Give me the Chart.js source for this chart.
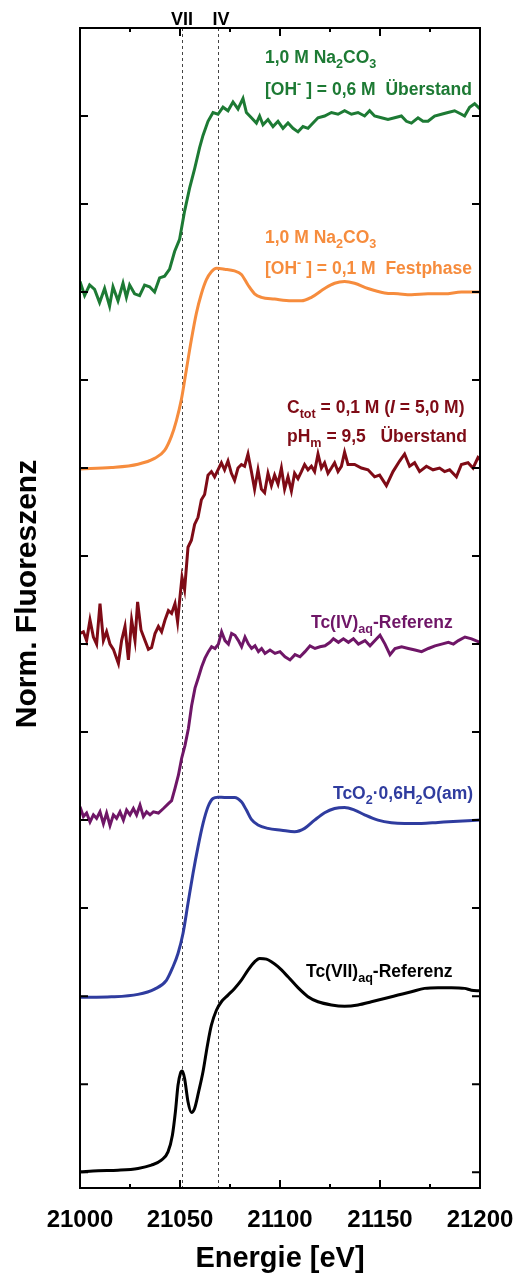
<!DOCTYPE html>
<html>
<head>
<meta charset="utf-8">
<script src="https://cdn.jsdelivr.net/npm/chart.js@4.4.0/dist/chart.umd.min.js"></script>
<style>
  body { margin: 0; background: #fff; }
</style>
</head>
<body>
<canvas id="myChart" width="514" height="1278"></canvas>
<script>
// normalised XANES spectra, [energy eV, mu], each stacked by its own offset
var naCarb06 = [[21000,0.06],[21002.3,-0.02],[21004.8,0.04],[21007.3,0.015],[21009.8,-0.06],[21012.3,0.02],[21014.8,-0.08],[21016.5,0.03],[21019,-0.05],[21021.5,0.05],[21023.2,-0.03],[21024.8,0.04],[21027.3,-0.01],[21029.8,-0.02],[21032.3,0.04],[21034.8,0.03],[21037.3,0.0],[21039.8,0.08],[21042.3,0.09],[21044.8,0.13],[21047.3,0.23],[21049.8,0.30],[21052.3,0.46],[21054.8,0.59],[21057.3,0.70],[21059.8,0.82],[21061.5,0.89],[21064,0.97],[21066.5,1.02],[21069,1.01],[21071.5,1.05],[21074,1.03],[21076.5,1.08],[21079,1.04],[21081.5,1.10],[21083.2,1.02],[21085.7,0.99],[21088.2,0.96],[21089.8,1.0],[21091.5,0.95],[21094,0.98],[21096.5,0.94],[21099,0.97],[21101.5,0.93],[21104,0.96],[21106.5,0.93],[21109,0.91],[21111.5,0.94],[21114,0.93],[21116.5,0.96],[21119,0.99],[21122.3,1.0],[21125.7,1.02],[21129,1.01],[21132.3,1.03],[21135.7,1.01],[21139,1.02],[21142.3,1.0],[21144.8,1.03],[21147.3,1.0],[21150.7,0.99],[21154,0.98],[21157.3,0.99],[21160.7,1.0],[21163.2,0.97],[21165.7,0.96],[21169,0.99],[21171.5,0.97],[21174,0.97],[21177.3,1.0],[21180.7,1.01],[21184,1.02],[21187.3,1.03],[21190.7,1.01],[21192.3,1.0],[21194.8,1.05],[21197.3,1.07],[21200,1.04]];

var naCarb01 = [[21000,-0.005],[21015.7,0.003],[21029,0.022],[21037.3,0.055],[21042.3,0.10],[21045.7,0.18],[21048.2,0.27],[21050.7,0.39],[21053.2,0.56],[21055.7,0.73],[21058.2,0.88],[21060.7,0.99],[21063.2,1.07],[21065.7,1.115],[21068.2,1.135],[21072.3,1.13],[21077.3,1.12],[21080.7,1.10],[21084,1.04],[21087.3,0.99],[21090.7,0.97],[21097.3,0.96],[21105.7,0.95],[21110.7,0.95],[21115.7,0.97],[21122.3,1.02],[21127.3,1.05],[21132.3,1.06],[21137.3,1.05],[21144,1.02],[21152.3,0.995],[21159,0.99],[21165.7,0.985],[21174,0.99],[21182.3,0.99],[21190.7,1.0],[21200,1.0]];

var ctot01 = [[21000,0.06],[21001.7,0.07],[21003.3,0.02],[21005,0.137],[21006.7,0.04],[21008.3,0.0],[21010,0.23],[21011.7,0.02],[21013.3,0.07],[21015,0.0],[21016.7,-0.03],[21019.2,-0.11],[21020.8,0.02],[21022.5,0.10],[21024.2,-0.09],[21025.8,0.137],[21027.5,0.02],[21028.8,0.24],[21030.5,0.08],[21032.5,0.02],[21034.2,-0.03],[21035.8,-0.02],[21037.5,0.06],[21039.2,0.10],[21040.8,0.07],[21042.5,0.137],[21044.2,0.19],[21045.8,0.174],[21047.5,0.23],[21048.8,0.127],[21050,0.27],[21051,0.38],[21052.3,0.31],[21054,0.55],[21055.7,0.59],[21057.3,0.68],[21059,0.72],[21060.7,0.82],[21062.3,0.85],[21064,0.96],[21065.7,0.98],[21067.3,0.95],[21069,0.99],[21070.7,1.03],[21072.3,0.99],[21074,1.04],[21075.7,0.97],[21077.3,0.93],[21079,1.0],[21080.7,1.02],[21082.3,1.01],[21084,1.08],[21085.7,0.98],[21087.3,0.88],[21089,0.99],[21090.7,0.88],[21092.3,0.86],[21094,0.97],[21095.7,0.90],[21097.3,0.96],[21099,0.91],[21100.7,1.0],[21102.3,0.88],[21104,0.95],[21105.7,0.87],[21107.3,0.97],[21109,0.94],[21110.7,0.98],[21112.3,1.02],[21114,0.99],[21115.7,1.01],[21117.3,0.98],[21119,1.08],[21120.7,1.0],[21122.3,1.03],[21124,0.97],[21125.7,1.0],[21127.3,1.03],[21129,0.98],[21130.7,1.01],[21132.3,1.09],[21134,1.02],[21137.3,1.02],[21140.7,1.0],[21144,0.99],[21147.3,0.95],[21149.8,0.96],[21153.2,0.90],[21156.5,0.98],[21159.8,1.04],[21162.3,1.08],[21164.8,1.01],[21167.3,1.03],[21169.8,0.98],[21173.2,1.01],[21176.5,0.99],[21179.8,1.0],[21182.3,0.98],[21184.8,0.99],[21188.2,0.95],[21190.7,1.02],[21194,1.03],[21196.5,1.0],[21199,1.06],[21200,1.05]];

var tcIVaq = [[21000,0.076],[21001.7,0.02],[21003.3,0.04],[21005,-0.01],[21006.7,0.03],[21008.3,0.01],[21010,0.047],[21011.7,-0.02],[21013.3,0.04],[21015,-0.03],[21016.7,0.03],[21018.3,0.01],[21020,0.047],[21021.7,0.0],[21023.3,0.057],[21025,0.03],[21026.7,0.066],[21028.3,0.03],[21030,0.085],[21031.7,0.02],[21033.3,0.047],[21035,0.03],[21036.7,0.047],[21039.2,0.04],[21041.7,0.066],[21044.2,0.094],[21045.8,0.11],[21047.5,0.18],[21049.2,0.255],[21050.8,0.35],[21052.5,0.425],[21054.2,0.52],[21055.8,0.65],[21057.5,0.75],[21059.2,0.81],[21060.8,0.87],[21062.5,0.92],[21064.2,0.957],[21065.8,0.985],[21067.5,0.975],[21069.2,1.0],[21070.8,1.07],[21072.5,1.02],[21074.2,1.0],[21075.8,1.06],[21077.5,1.05],[21079.2,1.02],[21080.8,0.985],[21082.5,1.04],[21084.2,1.0],[21085.8,0.975],[21087.5,0.99],[21089.2,0.957],[21090.8,0.975],[21092.5,0.947],[21095,0.966],[21097.5,0.947],[21100,0.957],[21102.5,0.928],[21105,0.91],[21107.5,0.94],[21110,0.928],[21112.5,0.957],[21115,0.99],[21117.5,0.975],[21120,0.985],[21122.5,0.99],[21125,1.01],[21126.7,1.03],[21129.2,1.01],[21131.7,1.03],[21134.2,1.01],[21136.7,1.03],[21139.2,1.0],[21142.5,1.02],[21145,0.99],[21148.3,1.03],[21150,1.05],[21152.5,1.0],[21155,0.94],[21157.5,0.975],[21160.8,0.985],[21164.2,0.975],[21167.5,0.966],[21170.8,0.957],[21174.2,0.975],[21177.5,0.99],[21180.8,1.0],[21184.2,1.01],[21186.7,1.0],[21189.2,1.02],[21192.5,1.04],[21195.8,1.03],[21200,1.01]];

var tcO2am = [[21000,-0.007],[21015.7,-0.004],[21029,0.01],[21037.3,0.04],[21043.2,0.09],[21046.5,0.167],[21049,0.242],[21051.5,0.356],[21054,0.527],[21056.5,0.697],[21059,0.848],[21061.5,0.98],[21064,1.076],[21066.5,1.123],[21069,1.13],[21072.3,1.129],[21077.3,1.129],[21080.7,1.104],[21083.2,1.057],[21085.7,1.004],[21089,0.972],[21094,0.953],[21100.7,0.943],[21107.3,0.934],[21112.3,0.953],[21117.3,1.0],[21122.3,1.042],[21127.3,1.066],[21132.3,1.072],[21137.3,1.057],[21142.3,1.03],[21149,1.0],[21155.7,0.985],[21162.3,0.981],[21170.7,0.981],[21179,0.987],[21189,0.994],[21200,1.0]];

var tcVIIaq = [[21000,0.002],[21009,0.008],[21019,0.011],[21029,0.021],[21035.7,0.04],[21040.7,0.068],[21044,0.115],[21046.2,0.21],[21047.7,0.343],[21049,0.494],[21050.2,0.561],[21051.2,0.574],[21052.3,0.532],[21054,0.40],[21055.7,0.339],[21057.3,0.362],[21059.3,0.456],[21061.5,0.57],[21063.7,0.72],[21065.7,0.835],[21068.2,0.92],[21070.7,0.968],[21074,1.006],[21077.3,1.044],[21080.7,1.091],[21084,1.148],[21087.3,1.195],[21089.8,1.214],[21093.2,1.21],[21095.7,1.195],[21099,1.167],[21104,1.11],[21109,1.048],[21114,0.997],[21119,0.968],[21125.7,0.95],[21132.3,0.943],[21139,0.95],[21145.7,0.968],[21152.3,0.987],[21159,1.006],[21165.7,1.025],[21172.3,1.044],[21179,1.048],[21185.7,1.048],[21192.3,1.044],[21195.7,1.034],[21200,1.03]];

var offsets = [5, 4, 3, 2, 1, 0];
var edgeLines = [21051, 21069];       // Tc(VII) / Tc(IV) edge positions
var edgeNames = ['VII', 'IV'];

var FONT = '"Liberation Sans", Arial, sans-serif';
var colGreen = '#1d7a34', colOrange = '#f68c3d', colRed = '#7f0b16',
    colPurple = '#6f1667', colBlue = '#2f3c9f', colBlack = '#000000';

function stack(arr, off) {
    return arr.map(function(p) { return {x: p[0], y: p[1] + off}; });
}

function line(data, off, color, smooth) {
    return {
        data: stack(data, off),
        showLine: true,
        borderColor: color,
        backgroundColor: color,
        borderWidth: 3,
        pointRadius: 0,
        tension: 0,
        cubicInterpolationMode: smooth ? 'monotone' : 'default'
    };
}

// text labels next to the curves, anchored in data units
var labels = [
    {x: 21092.5, y: 6.301, color: colGreen, size: 17.5, parts: [['1,0 M Na',''],['2','sub'],['CO',''],['3','sub']]},
    {x: 21092.5, y: 6.119, color: colGreen, size: 17.5, parts: [['[OH',''],['-','sup'],[' ] = 0,6 M  Überstand','']]},
    {x: 21092.5, y: 5.278, color: colOrange, size: 17.5, parts: [['1,0 M Na',''],['2','sub'],['CO',''],['3','sub']]},
    {x: 21092.5, y: 5.102, color: colOrange, size: 17.5, parts: [['[OH',''],['-','sup'],[' ] = 0,1 M  Festphase','']]},
    {x: 21103.5, y: 4.312, color: colRed, size: 17.5, parts: [['C',''],['tot','sub'],[' = 0,1 M (',''],['I','it'],[' = 5,0 M)','']]},
    {x: 21103.5, y: 4.148, color: colRed, size: 17.5, parts: [['pH',''],['m','sub'],[' = 9,5   Überstand','']]},
    {x: 21115.5, y: 3.091, color: colPurple, size: 17.5, parts: [['Tc(IV)',''],['aq','sub'],['-Referenz','']]},
    {x: 21126.5, y: 2.119, color: colBlue, size: 17.5, parts: [['TcO',''],['2','sub'],['·0,6H',''],['2','sub'],['O(am)','']]},
    {x: 21113, y: 1.108, color: colBlack, size: 17.5, parts: [['Tc(VII)',''],['aq','sub'],['-Referenz','']]}
];

function drawRich(ctx, x, y, parts, color, size) {
    ctx.fillStyle = color;
    ctx.textAlign = 'left';
    ctx.textBaseline = 'alphabetic';
    parts.forEach(function(p) {
        var s = size, dy = 0, style = 'bold';
        if (p[1] === 'sub') { s = size * 0.72; dy = size * 0.3; }
        if (p[1] === 'sup') { s = size * 0.72; dy = -size * 0.4; }
        if (p[1] === 'it') style = 'italic bold';
        ctx.font = style + ' ' + s + 'px ' + FONT;
        ctx.fillText(p[0], x, y + dy);
        x += ctx.measureText(p[0]).width;
    });
}

var decor = {
    id: 'decor',
    beforeDatasetsDraw: function(chart) {
        var c = chart.ctx, a = chart.chartArea, xs = chart.scales.x;
        c.save();
        c.strokeStyle = '#444';
        c.lineWidth = 1;
        c.setLineDash([3, 3]);
        edgeLines.forEach(function(e) {
            var px = Math.round(xs.getPixelForValue(e)) + 0.5;
            c.beginPath();
            c.moveTo(px, a.top);
            c.lineTo(px, a.bottom);
            c.stroke();
        });
        c.restore();
    },
    afterDraw: function(chart) {
        var c = chart.ctx, a = chart.chartArea, xs = chart.scales.x, ys = chart.scales.y;
        c.save();
        // frame with inward ticks on all four sides
        c.strokeStyle = '#000';
        c.lineWidth = 2;
        c.strokeRect(a.left, a.top, a.right - a.left, a.bottom - a.top);
        c.beginPath();
        for (var e = 21000; e <= 21200; e += 25) {
            var px = xs.getPixelForValue(e);
            var len = (e % 50 === 0) ? 8 : 4;
            c.moveTo(px, a.bottom); c.lineTo(px, a.bottom - len);
            c.moveTo(px, a.top); c.lineTo(px, a.top + len);
        }
        for (var v = 0; v <= 6.5; v += 0.5) {
            var py = ys.getPixelForValue(v);
            c.moveTo(a.left, py); c.lineTo(a.left + 8, py);
            c.moveTo(a.right, py); c.lineTo(a.right - 8, py);
        }
        c.stroke();

        // oxidation state markers above the frame
        c.fillStyle = '#000';
        c.font = 'bold 18px ' + FONT;
        c.textAlign = 'center';
        c.textBaseline = 'alphabetic';
        c.fillText(edgeNames[0], xs.getPixelForValue(edgeLines[0]), 25);
        c.fillText(edgeNames[1], xs.getPixelForValue(edgeLines[1]) + 3, 25);

        labels.forEach(function(l) {
            drawRich(c, xs.getPixelForValue(l.x), ys.getPixelForValue(l.y), l.parts, l.color, l.size);
        });

        // y axis title
        c.translate(28, 594);
        c.rotate(-Math.PI / 2);
        c.fillStyle = '#000';
        c.font = 'bold 30px ' + FONT;
        c.textAlign = 'center';
        c.textBaseline = 'middle';
        c.fillText('Norm. Fluoreszenz', 0, 0);
        c.restore();
    }
};

var ctx = document.getElementById('myChart').getContext('2d');

var chart = new Chart(ctx, {
    type: 'scatter',
    data: {
        datasets: [
            line(naCarb06, offsets[0], colGreen, false),
            line(naCarb01, offsets[1], colOrange, true),
            line(ctot01, offsets[2], colRed, false),
            line(tcIVaq, offsets[3], colPurple, false),
            line(tcO2am, offsets[4], colBlue, true),
            line(tcVIIaq, offsets[5], colBlack, true)
        ]
    },
    options: {
        responsive: false,
        animation: false,
        layout: { padding: { top: 28, right: 34, left: 0, bottom: 0 } },
        plugins: { legend: { display: false }, tooltip: { enabled: false } },
        scales: {
            x: {
                type: 'linear',
                min: 21000,
                max: 21200,
                grid: { display: false },
                border: { display: false },
                ticks: {
                    stepSize: 50,
                    padding: 10,
                    color: '#000',
                    font: { family: FONT, size: 24, weight: 'bold' },
                    callback: function(v) { return String(v); }
                },
                title: {
                    display: true,
                    text: 'Energie [eV]',
                    color: '#000',
                    font: { family: FONT, size: 29, weight: 'bold' },
                    padding: { top: 0, bottom: 2 }
                },
                afterFit: function(s) {
                    s.height = 90;
                    // let the last tick label hang over the right padding
                    s.paddingLeft = 0;
                    s.paddingRight = 0;
                }
            },
            y: {
                min: -0.09,
                max: 6.5,
                grid: { display: false },
                border: { display: false },
                ticks: { display: false },
                afterFit: function(s) { s.width = 80; }
            }
        }
    },
    plugins: [decor]
});
</script>
</body>
</html>
